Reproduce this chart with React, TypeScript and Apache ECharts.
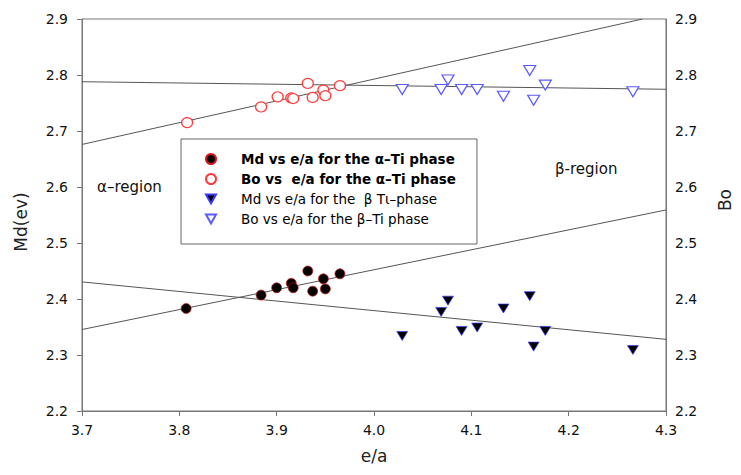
import React, { useEffect, useRef } from "react";
import * as echarts from "echarts";

// ---- data ----
const mdAlphaEA = [3.807, 3.884, 3.900, 3.915, 3.917, 3.932, 3.937, 3.948, 3.950, 3.965];
const mdAlphaMd = [2.383, 2.407, 2.420, 2.428, 2.420, 2.450, 2.414, 2.436, 2.418, 2.445];
const boAlphaEA = [3.808, 3.884, 3.901, 3.915, 3.917, 3.932, 3.937, 3.948, 3.950, 3.965];
const boAlphaBo = [2.715, 2.743, 2.761, 2.759, 2.758, 2.785, 2.760, 2.773, 2.763, 2.781];
const betaEA = [4.029, 4.069, 4.076, 4.090, 4.106, 4.133, 4.160, 4.164, 4.176, 4.266];
const mdBetaMd = [2.334, 2.377, 2.397, 2.343, 2.349, 2.383, 2.405, 2.315, 2.343, 2.309];
const boBetaBo = [2.774, 2.774, 2.791, 2.774, 2.774, 2.762, 2.808, 2.755, 2.782, 2.770];

// regression lines (end points)
const fitBoAlphaX = [3.7, 4.276];
const fitBoAlphaY = [2.676, 2.9];
const fitBoBetaX = [3.7, 4.3];
const fitBoBetaY = [2.788, 2.7745];
const fitMdAlphaX = [3.7, 4.3];
const fitMdAlphaY = [2.3455, 2.559];
const fitMdBetaX = [3.7, 4.3];
const fitMdBetaY = [2.4305, 2.328];

const seriesNames = [
  "Md vs e/a for the α–Ti phase",
  "Bo vs  e/a for the α–Ti phase",
  "Md vs e/a for the  β Tι–phase",
  "Bo vs e/a for the β–Ti phase",
];
const boldNames = [true, true, false, false];
const legendIcons = ["circle", "circle", "path://M0,0L10,0L5,9Z", "path://M0,0L10,0L5,9Z"];

const FONT = "'DejaVu Sans', 'Liberation Sans', Arial, sans-serif";

const zip = (xs: number[], ys: number[]) => xs.map((x, i) => [x, ys[i]]);

export default function App() {
  const ref = useRef<HTMLDivElement>(null);
  useEffect(() => {
    if (!ref.current) return;
    const chart = echarts.init(ref.current, undefined, { renderer: "svg" });
    const fitLine = (xs: number[], ys: number[]) => ({
      type: "line",
      data: zip(xs, ys),
      showSymbol: false,
      symbol: "none",
      lineStyle: { color: "#555", width: 1 },
      silent: true,
      clip: true,
      z: 1,
    });
    chart.setOption({
      animation: false,
      backgroundColor: "#fff",
      grid: {
        left: 82,
        right: 66,
        top: 19,
        bottom: 64,
        show: true,
        borderColor: "#777",
        borderWidth: 1,
      },
      xAxis: {
        type: "value",
        min: 3.7,
        max: 4.3,
        interval: 0.1,
        name: "e/a",
        nameLocation: "middle",
        nameGap: 36,
        nameTextStyle: { fontFamily: FONT, fontSize: 17, color: "#222" },
        axisLine: { show: true, lineStyle: { color: "#777" } },
        axisTick: { show: true, inside: false, length: 5, lineStyle: { color: "#777" } },
        axisLabel: {
          margin: 12,
          fontFamily: FONT,
          fontSize: 14,
          color: "#111",
          formatter: (v: number) => v.toFixed(1),
        },
        splitLine: { show: false },
      },
      yAxis: [
        {
          type: "value",
          position: "left",
          min: 2.2,
          max: 2.9,
          interval: 0.1,
          name: "Md(ev)",
          nameLocation: "middle",
          nameRotate: 90,
          nameGap: 53,
          nameTextStyle: { fontFamily: FONT, fontSize: 17, color: "#222", padding: [0, 14, 0, 0] },
          axisLine: { show: true, lineStyle: { color: "#777" } },
          axisTick: { show: true, inside: false, length: 5, lineStyle: { color: "#777" } },
          axisLabel: {
            margin: 14,
            fontFamily: FONT,
            fontSize: 14,
            color: "#111",
            formatter: (v: number) => v.toFixed(1),
          },
          splitLine: { show: false },
        },
        {
          type: "value",
          position: "right",
          min: 2.2,
          max: 2.9,
          interval: 0.1,
          name: "Bo",
          nameLocation: "middle",
          nameRotate: 90,
          nameGap: 50,
          nameTextStyle: { fontFamily: FONT, fontSize: 17, color: "#222", padding: [0, 0, 0, 30] },
          axisLine: { show: true, lineStyle: { color: "#777" } },
          axisTick: { show: false },
          axisLabel: {
            margin: 9,
            fontFamily: FONT,
            fontSize: 14,
            color: "#111",
            formatter: (v: number) => v.toFixed(1),
          },
          splitLine: { show: false },
        },
      ],
      legend: {
        left: 181,
        top: 139,
        orient: "vertical",
        padding: [13, 21, 18, 24],
        itemGap: 6,
        itemWidth: 10,
        itemHeight: 10,
        borderColor: "#666",
        borderWidth: 1,
        backgroundColor: "#fff",
        data: seriesNames.map((n, i) => ({ name: n, icon: legendIcons[i] })),
        formatter: (name: string) => {
          const i = seriesNames.indexOf(name);
          return boldNames[i] ? `{b|${name}}` : `{n|${name}}`;
        },
        textStyle: {
          fontFamily: FONT,
          fontSize: 13,
          color: "#000",
          rich: {
            b: { fontFamily: FONT, fontSize: 13.5, fontWeight: "bold", color: "#000", padding: [0, 0, 0, 20], lineHeight: 14 },
            n: { fontFamily: FONT, fontSize: 13.5, color: "#000", padding: [0, 0, 0, 20], lineHeight: 14 },
          },
        },
      },
      graphic: [
        {
          type: "text",
          left: 97,
          top: 179,
          style: { text: "α–region", fontFamily: FONT, fontSize: 15, fill: "#111" },
        },
        {
          type: "text",
          left: 555,
          top: 161,
          style: { text: "β-region", fontFamily: FONT, fontSize: 15, fill: "#111" },
        },
      ],
      series: [
        fitLine(fitBoAlphaX, fitBoAlphaY),
        fitLine(fitBoBetaX, fitBoBetaY),
        fitLine(fitMdAlphaX, fitMdAlphaY),
        fitLine(fitMdBetaX, fitMdBetaY),
        {
          name: seriesNames[0],
          type: "scatter",
          yAxisIndex: 0,
          data: zip(mdAlphaEA, mdAlphaMd),
          symbol: "circle",
          symbolSize: 10,
          itemStyle: { color: "#000", opacity: 1, borderColor: "#d81818", borderWidth: 0.7 },
          z: 3,
        },
        {
          name: seriesNames[1],
          type: "scatter",
          yAxisIndex: 1,
          data: zip(boAlphaEA, boAlphaBo),
          symbol: "circle",
          symbolSize: [11, 10],
          itemStyle: { color: "#fff", opacity: 1, borderColor: "#ff3a3a", borderWidth: 1.2 },
          z: 3,
        },
        {
          name: seriesNames[2],
          type: "scatter",
          yAxisIndex: 0,
          data: zip(betaEA, mdBetaMd),
          symbol: "triangle",
          symbolRotate: 180,
          symbolSize: [11, 9],
          itemStyle: { color: "#000", opacity: 1, borderColor: "#3a3aff", borderWidth: 0.7 },
          z: 3,
        },
        {
          name: seriesNames[3],
          type: "scatter",
          yAxisIndex: 1,
          data: zip(betaEA, boBetaBo),
          symbol: "triangle",
          symbolRotate: 180,
          symbolSize: [12, 10],
          itemStyle: { color: "#fff", opacity: 1, borderColor: "#5a5aff", borderWidth: 1.2 },
          z: 3,
        },
      ],
    });
    return () => chart.dispose();
  }, []);
  return (
    <div
      ref={ref}
      style={{ position: "fixed", left: 0, top: 0, width: 741, height: 475, background: "#fff" }}
    />
  );
}
